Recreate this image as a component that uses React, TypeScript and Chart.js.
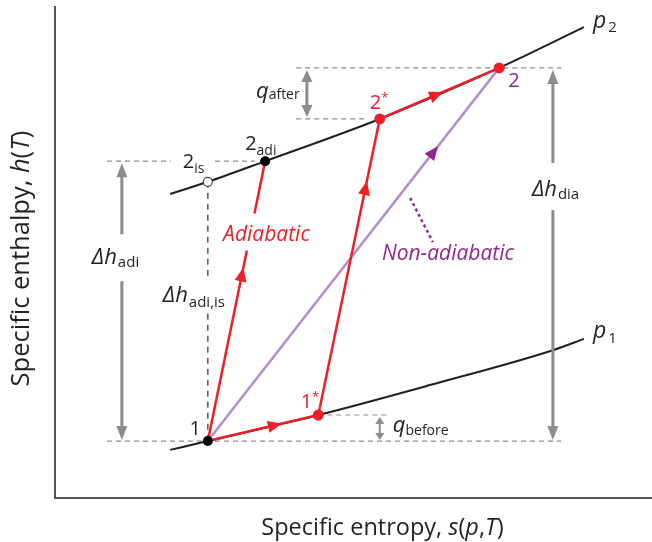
import React, { useEffect, useRef } from 'react';
import { Chart, registerables } from 'chart.js';

Chart.register(...registerables);

// ---- Data (arbitrary schematic units: entropy s on x, enthalpy h on y) ----
// Isobar p2 (high pressure)
const isobarHighS = [19.3, 25.6, 35.2, 54.4, 74.4, 88.6];
const isobarHighH = [61.9, 64.4, 68.6, 77.2, 87.6, 95.9];
// Isobar p1 (low pressure)
const isobarLowS = [19.3, 25.6, 44.1, 62.8, 83.4, 88.6];
const isobarLowH = [9.8, 11.6, 16.9, 23.0, 30.1, 32.4];

// State points: 1, 1*, 2is, 2adi, 2*, 2
const stateNames = ['1', '1s', '2is', '2adi', '2s', '2'];
const stateS = [25.6, 44.1, 25.6, 35.2, 54.4, 74.4];
const stateH = [11.6, 16.9, 64.4, 68.6, 77.2, 87.6];

// Dashed guide lines: [s1, h1, s2, h2]
const guideLines = [
  [40.4, 87.6, 84.8, 87.6],
  [40.4, 77.2, 52.3, 77.2],
  [8.7, 68.6, 33.5, 68.6],
  [8.7, 11.6, 84.8, 11.6],
  [44.1, 16.9, 55.8, 16.9],
];
// Isentropic vertical from 2is down to 1
const isentropeS = [25.6, 25.6];
const isentropeH = [64.4, 11.6];

// Leader line for the "Non-adiabatic" label
const leaderS = [59.5, 63.3];
const leaderH = [61.1, 52.1];

// Enthalpy-difference arrows: s positions
const dhAdiS = 11.2;
const dhDiaS = 83.4;
const qAfterS = 42.2;
const qBeforeS = 54.4;

const RED = '#ed1f24';
const PURPLE = '#92278f';
const LAVENDER = '#b48dd0';
const BLACK = '#231f20';
const GRAY = '#8c8c8c';
const FONT = '"Open Sans", "Noto Sans", sans-serif';

const st = (name: string) => {
  const i = stateNames.indexOf(name);
  return { x: stateS[i], y: stateH[i] };
};

const fnt = (size: number, it = false) => `${it ? 'italic ' : ''}${size}px ${FONT}`;

type Part = { t: string; size: number; it?: boolean; dy?: number; dx?: number; color?: string };

function rich(ctx: CanvasRenderingContext2D, x: number, y: number, parts: Part[], color: string, align = 'left') {
  let w = 0;
  for (const p of parts) {
    ctx.font = fnt(p.size, p.it);
    w += ctx.measureText(p.t).width + (p.dx || 0);
  }
  let cx = align === 'center' ? x - w / 2 : align === 'right' ? x - w : x;
  ctx.textBaseline = 'alphabetic';
  ctx.textAlign = 'left';
  for (const p of parts) {
    ctx.font = fnt(p.size, p.it);
    ctx.fillStyle = p.color || color;
    cx += p.dx || 0;
    ctx.fillText(p.t, cx, y + (p.dy || 0));
    cx += ctx.measureText(p.t).width;
  }
}

function head(ctx: CanvasRenderingContext2D, tx: number, ty: number, ux: number, uy: number, len: number, hw: number, color: string) {
  const bx = tx - ux * len;
  const by = ty - uy * len;
  ctx.beginPath();
  ctx.moveTo(tx, ty);
  ctx.lineTo(bx - uy * hw, by + ux * hw);
  ctx.lineTo(bx + uy * hw, by - ux * hw);
  ctx.closePath();
  ctx.fillStyle = color;
  ctx.fill();
}

const annotations = {
  id: 'annotations',
  afterDatasetsDraw(chart: any) {
    const ctx: CanvasRenderingContext2D = chart.ctx;
    const xs = chart.scales.x;
    const ys = chart.scales.y;
    const P = (name: string) => {
      const p = st(name);
      return { x: xs.getPixelForValue(p.x), y: ys.getPixelForValue(p.y) };
    };
    const X = (v: number) => xs.getPixelForValue(v);
    const Y = (v: number) => ys.getPixelForValue(v);
    const p1 = P('1'), p1s = P('1s'), p2is = P('2is'), p2adi = P('2adi'), p2s = P('2s'), p2 = P('2');
    const lerp = (a: any, b: any, f: number) => ({ x: a.x + (b.x - a.x) * f, y: a.y + (b.y - a.y) * f });

    ctx.save();
    // white backgrounds breaking lines behind labels
    const adiA = lerp(p1, p2adi, 0.745);
    ctx.fillStyle = '#ffffff';
    ctx.fillRect(adiA.x - 32, adiA.y - 19, 96, 37);
    const isoX = X(isentropeS[0]);
    const isoMid = (Y(isentropeH[0]) + Y(isentropeH[1])) / 2;
    ctx.fillRect(isoX - 48, isoMid - 33, 72, 32);
    ctx.fillRect(p2is.x - 37, p2is.y - 36, 42, 26);

    // process arrowheads
    const arrowOn = (a: any, b: any, f: number, color: string) => {
      const t = lerp(a, b, f);
      const dx = b.x - a.x, dy = b.y - a.y;
      const L = Math.hypot(dx, dy);
      head(ctx, t.x, t.y, dx / L, dy / L, 14, 6, color);
    };
    arrowOn(p1, p2adi, 0.62, RED);
    arrowOn(p1, p1s, 0.67, RED);
    arrowOn(p1s, p2s, 0.79, RED);
    arrowOn(p2s, p2, 0.53, RED);
    arrowOn(p1, p2, 0.79, PURPLE);

    // gray double arrows
    const dbl = (x: number, yTop: number, yBot: number, len: number, hw: number, lw: number, gap?: number[]) => {
      ctx.strokeStyle = GRAY;
      ctx.lineWidth = lw;
      ctx.beginPath();
      if (gap) {
        ctx.moveTo(x, yTop + len - 1);
        ctx.lineTo(x, gap[0]);
        ctx.moveTo(x, gap[1]);
        ctx.lineTo(x, yBot - len + 1);
      } else {
        ctx.moveTo(x, yTop + len - 1);
        ctx.lineTo(x, yBot - len + 1);
      }
      ctx.stroke();
      head(ctx, x, yTop, 0, -1, len, hw, GRAY);
      head(ctx, x, yBot, 0, 1, len, hw, GRAY);
    };
    const aX = X(dhAdiS), aT = p2adi.y + 2, aB = p1.y - 1;
    dbl(aX, aT, aB, 14, 5.5, 3, [aT + 71, aT + 118]);
    const dX = X(dhDiaS), dT = p2.y + 2, dB = p1.y - 1;
    dbl(dX, dT, dB, 14, 5.5, 3, [dT + 93, dT + 140]);
    const qaX = X(qAfterS), qaT = p2.y + 2, qaB = p2s.y - 2;
    dbl(qaX, qaT, qaB, 12, 5.5, 3);
    const qbX = X(qBeforeS), qbT = p1s.y + 2, qbB = p1.y - 1;
    dbl(qbX, qbT, qbB, 7, 4.5, 2);

    // labels
    rich(ctx, p1.x - 7, p1.y - 6, [{ t: '1', size: 20 }], BLACK, 'right');
    rich(ctx, p1s.x + 1, p1s.y - 7, [{ t: '1', size: 20 }, { t: '*', size: 13, dy: -7 }], RED, 'right');
    rich(ctx, p2is.x - 25, p2is.y - 14, [{ t: '2', size: 20 }, { t: 'is', size: 14, dy: 5 }], BLACK);
    rich(ctx, p2adi.x - 20, p2adi.y - 11, [{ t: '2', size: 20 }, { t: 'adi', size: 14, dy: 5 }], BLACK);
    rich(ctx, p2s.x - 10, p2s.y - 10, [{ t: '2', size: 20 }, { t: '*', size: 13, dy: -7 }], RED);
    rich(ctx, p2.x + 9, p2.y + 19, [{ t: '2', size: 20 }], PURPLE);

    rich(ctx, adiA.x + 16, adiA.y + 8, [{ t: 'Adiabatic', size: 21, it: true }], RED, 'center');
    const leadEnd = { x: X(leaderS[1]), y: Y(leaderH[1]) };
    rich(ctx, leadEnd.x - 51, leadEnd.y + 18, [{ t: 'Non-adiabatic', size: 21, it: true }], PURPLE);

    rich(ctx, aX - 30, aT + 101, [{ t: 'Δ', size: 22, it: true }, { t: 'h', size: 22, it: true }, { t: 'adi', size: 15, dy: 3, dx: 1 }], BLACK);
    rich(ctx, isoX - 45, isoMid - 9, [{ t: 'Δ', size: 22, it: true }, { t: 'h', size: 22, it: true }, { t: 'adi,is', size: 15, dy: 5, dx: 1 }], BLACK);
    rich(ctx, dX - 21, dT + 126, [{ t: 'Δ', size: 22, it: true }, { t: 'h', size: 22, it: true }, { t: 'dia', size: 15, dy: 3, dx: 1 }], BLACK);
    const qaMid = (qaT + qaB) / 2;
    rich(ctx, qaX - 51, qaMid + 4.5, [{ t: 'q', size: 22, it: true }, { t: 'after', size: 14, dy: 1 }], BLACK);
    const qbMid = (qbT + qbB) / 2;
    rich(ctx, qbX + 13, qbMid + 3, [{ t: 'q', size: 22, it: true }, { t: 'before', size: 14, dy: 3 }], BLACK);

    const hiEnd = { x: X(isobarHighS[isobarHighS.length - 1]), y: Y(isobarHighH[isobarHighH.length - 1]) };
    const loEnd = { x: X(isobarLowS[isobarLowS.length - 1]), y: Y(isobarLowH[isobarLowH.length - 1]) };
    rich(ctx, hiEnd.x + 9, hiEnd.y + 1, [{ t: 'p', size: 23, it: true }, { t: '2', size: 15, dy: 4, dx: 2 }], BLACK);
    rich(ctx, loEnd.x + 9, loEnd.y - 1, [{ t: 'p', size: 23, it: true }, { t: '1', size: 15, dy: 5, dx: 2 }], BLACK);

    // axis titles
    const ca = chart.chartArea;
    const xt = 23.5;
    rich(ctx, (ca.left + ca.right) / 2 + 29, ca.bottom + 37, [
      { t: 'Specific entropy, ', size: xt },
      { t: 's', size: xt, it: true },
      { t: '(', size: xt },
      { t: 'p', size: xt, it: true },
      { t: ',', size: xt },
      { t: 'T', size: xt, it: true },
      { t: ')', size: xt },
    ], BLACK, 'center');
    const yt = 25.5;
    ctx.save();
    ctx.translate(ca.left - 26, (ca.top + ca.bottom) / 2 + 6);
    ctx.rotate(-Math.PI / 2);
    rich(ctx, 0, 0, [
      { t: 'Specific enthalpy, ', size: yt },
      { t: 'h', size: yt, it: true },
      { t: '(', size: yt },
      { t: 'T', size: yt, it: true },
      { t: ')', size: yt },
    ], BLACK, 'center');
    ctx.restore();
    ctx.restore();
  },
};

const pts = (sArr: number[], hArr: number[]) => sArr.map((s, i) => ({ x: s, y: hArr[i] }));

export default function App() {
  const ref = useRef<HTMLCanvasElement>(null);
  useEffect(() => {
    if (!ref.current) return;
    const line = (data: any[], color: string, width: number, order: number, extra: any = {}) => ({
      data,
      showLine: true,
      borderColor: color,
      borderWidth: width,
      pointRadius: 0,
      pointHoverRadius: 0,
      fill: false,
      tension: 0,
      order,
      ...extra,
    });
    const marker = (names: string[], color: string, radius: number, border = color, bw = 0) => ({
      data: names.map((n) => st(n)),
      showLine: false,
      pointRadius: radius,
      pointHoverRadius: radius,
      pointBackgroundColor: color,
      pointBorderColor: border,
      pointBorderWidth: bw,
      order: 0,
    });
    const datasets: any[] = [
      marker(['1', '2adi'], '#000000', 5),
      marker(['1s', '2s', '2'], RED, 5.5),
      marker(['2is'], '#ffffff', 4.5, '#444444', 1.2),
      line([st('1'), st('2adi')], RED, 2.5, 1),
      line([st('1'), st('1s'), st('2s'), st('2')], RED, 2.5, 1),
      line([st('1'), st('2')], LAVENDER, 2.5, 2),
      line(pts(leaderS, leaderH), PURPLE, 2.5, 2, { borderDash: [3, 3] }),
      line(pts(isobarHighS, isobarHighH), BLACK, 2, 3, { cubicInterpolationMode: 'monotone' }),
      line(pts(isobarLowS, isobarLowH), BLACK, 2, 3, { cubicInterpolationMode: 'monotone' }),
      line(pts(isentropeS, isentropeH), '#555555', 1.5, 4, { borderDash: [6, 5] }),
      ...guideLines.map((g) => line([{ x: g[0], y: g[1] }, { x: g[2], y: g[3] }], GRAY, 1.2, 4, { borderDash: [5, 4] })),
    ];
    const chart = new Chart(ref.current, {
      type: 'scatter',
      data: { datasets },
      options: {
        animation: false,
        responsive: false,
        layout: { autoPadding: false, padding: { left: 55, top: 7, right: 0, bottom: 44 } },
        plugins: { legend: { display: false }, tooltip: { enabled: false } },
        events: [],
        scales: {
          x: {
            type: 'linear',
            min: 0,
            max: 100,
            ticks: { display: false },
            grid: { display: false, drawTicks: false },
            border: { display: true, color: '#555555', width: 2 },
          },
          y: {
            type: 'linear',
            min: 0,
            max: 100,
            ticks: { display: false },
            grid: { display: false, drawTicks: false },
            border: { display: true, color: '#555555', width: 2 },
          },
        },
      },
      plugins: [annotations],
    });
    return () => chart.destroy();
  }, []);
  return (
    <div style={{ position: 'absolute', left: 0, top: 0, width: 652, height: 542, background: '#fff' }}>
      <canvas ref={ref} width={652} height={542} style={{ display: 'block' }} />
    </div>
  );
}
